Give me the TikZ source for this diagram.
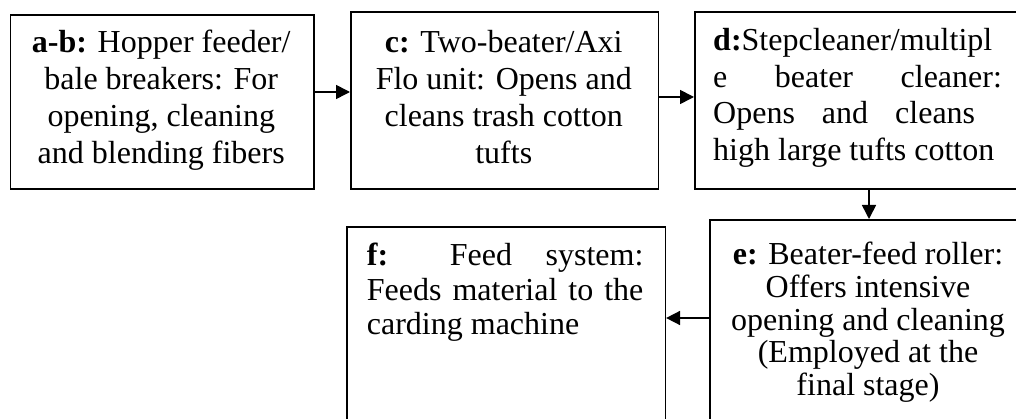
\documentclass[tikz,border=0pt]{standalone}
\usepackage{fontspec}
\setmainfont{Liberation Serif}
\usetikzlibrary{arrows.meta}
\begin{document}
\begin{tikzpicture}[x=1pt,y=-1pt,
  box/.style={draw, line width=1.6pt, inner sep=0pt, anchor=north west},
  ln/.style={inner sep=0pt, font=\fontsize{32}{37}\selectfont},
  lc/.style={ln, anchor=base},
  ll/.style={ln, anchor=base west},
  conn/.style={line width=1.6pt, -{Triangle[length=14pt,width=14pt]}},
]
\useasboundingbox (0,0) rectangle (1016,419);
% boxes
\node[box, minimum width=303.5pt, minimum height=174pt] (ab) at (9.5,14) {};
\node[box, minimum width=307.5pt, minimum height=177pt] (c) at (350,11) {};
\node[box, minimum width=326pt, minimum height=177pt] (d) at (694,11) {};
\node[box, minimum width=318pt, minimum height=212pt] (e) at (709,219) {};
\node[box, minimum width=318.5pt, minimum height=212pt] (f) at (346,226) {};
% a-b text
\node[lc] (ab1) at (161.25,52.5) {\textbf{a-b:} Hopper feeder/};
\node[lc] (ab2) at (161.25,89.5) {bale breakers: For};
\node[lc] (ab3) at (161.25,126.5) {opening, cleaning};
\node[lc] (ab4) at (161.25,163.5) {and blending fibers};
% c text
\node[lc] (c1) at (503.75,52.5) {\textbf{c:} Two-beater/Axi};
\node[lc] (c2) at (503.75,89.5) {Flo unit: Opens and};
\node[lc] (c3) at (503.75,126.5) {cleans trash cotton};
\node[lc] (c4) at (503.75,163.5) {tufts};
% d text
\node[ll] (d1) at (713,51) {\textbf{d:}Stepcleaner/multipl};
\node[ll] (d2) at (713,87.5) {\makebox[288.7pt][s]{e beater cleaner:}};
\node[ll] (d3) at (713,124) {\makebox[262pt][s]{Opens and cleans}};
\node[ll] (d4) at (713,160.5) {high large tufts cotton};
% e text
\node[lc] (e1) at (868,265) {\textbf{e:} Beater-feed roller:};
\node[lc] (e2) at (868,297.5) {Offers intensive};
\node[lc] (e3) at (868,330) {opening and cleaning};
\node[lc] (e4) at (868,362.5) {(Employed at the};
\node[lc] (e5) at (868,395) {final stage)};
% f text
\node[ll] (f1) at (366.7,266) {\makebox[276.5pt][s]{\textbf{f:} Feed system:}};
\node[ll] (f2) at (366.7,300) {\makebox[276.5pt][s]{Feeds material to the}};
\node[ll] (f3) at (366.7,334) {carding machine};
% connectors
\coordinate (r1) at (0,92);
\coordinate (r2) at (0,97);
\coordinate (cx) at (869,0);
\coordinate (r3) at (0,318);
\draw[conn] (ab.east |- r1) -- (c.west |- r1);
\draw[conn] (c.east |- r2) -- (d.west |- r2);
\draw[conn] (d.south -| cx) -- (e.north -| cx);
\draw[conn] (e.west |- r3) -- (f.east |- r3);
\end{tikzpicture}
\end{document}
